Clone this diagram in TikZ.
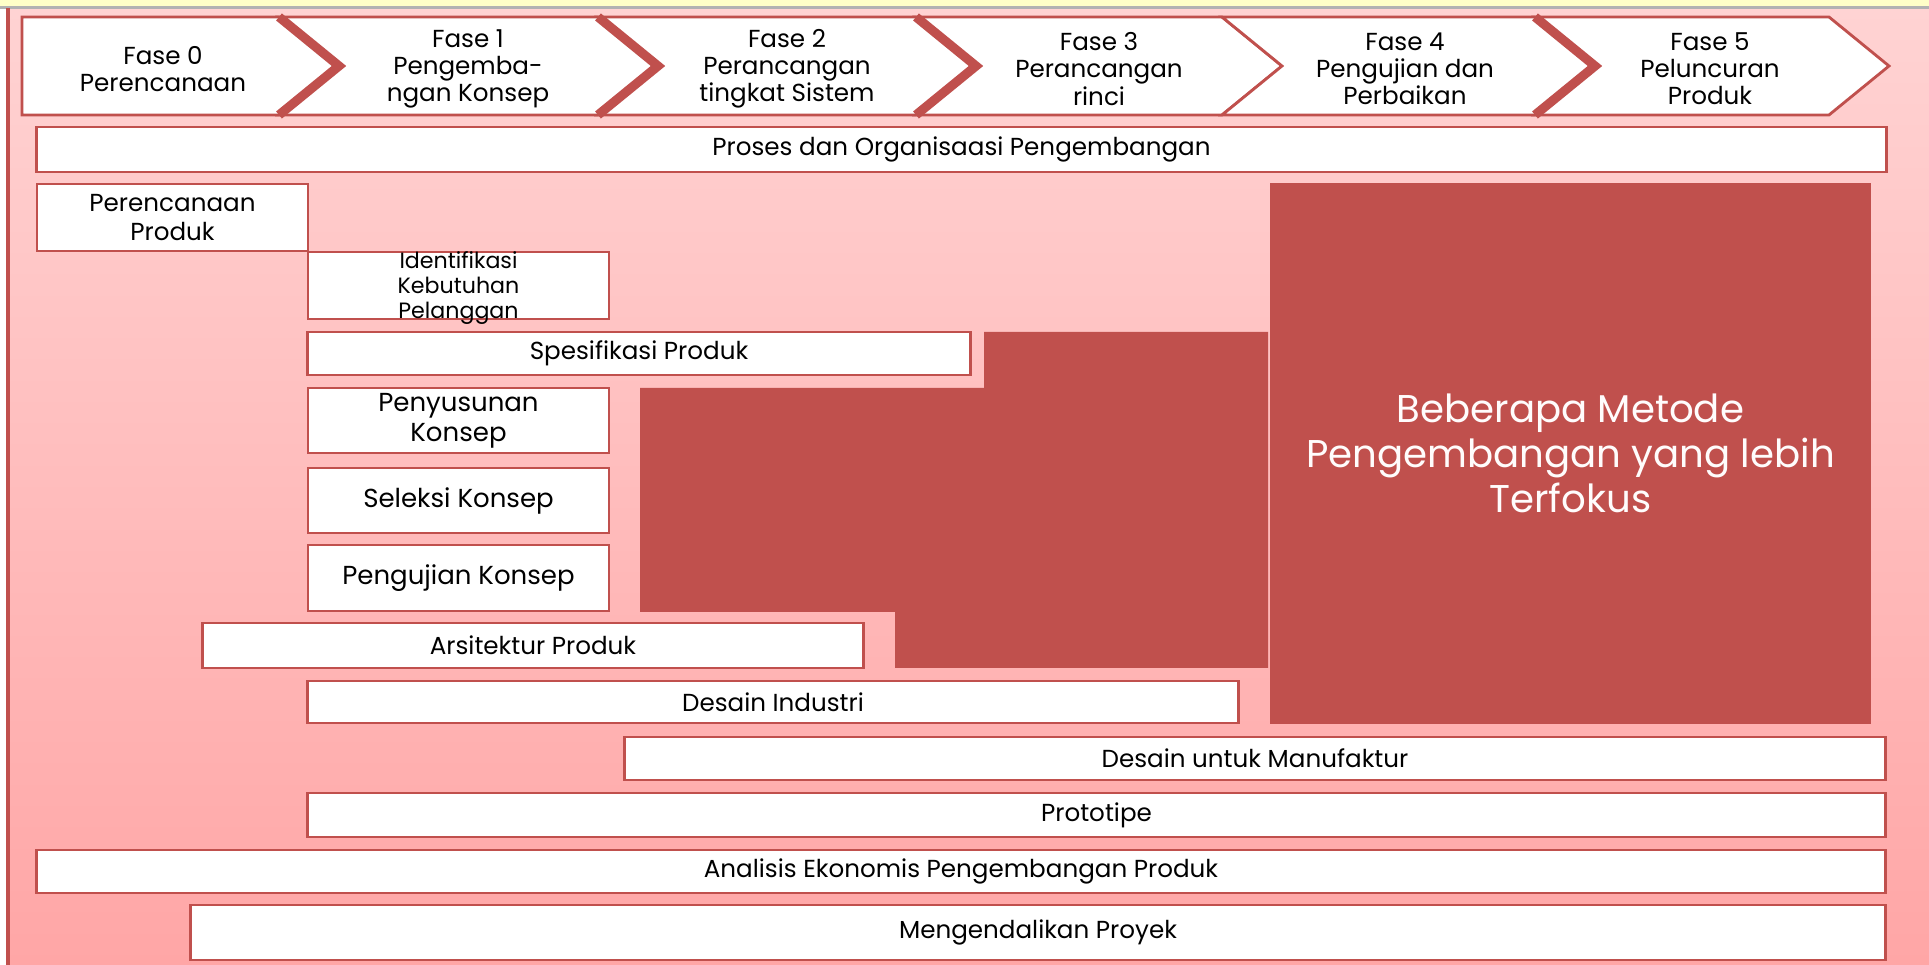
\documentclass[tikz,border=0pt]{standalone}
\usepackage{fontspec}
\setmainfont{Poppins}
\definecolor{dred}{HTML}{C0504D}
\definecolor{pinktop}{HTML}{FFD3D3}
\definecolor{pinkbot}{HTML}{FFA6A6}
\definecolor{ylw}{HTML}{FFFFC8}
\begin{document}
\begin{tikzpicture}[x=0.01cm,y=-0.01cm,
  box/.style={draw=dred, line width=0.8pt, fill=white, inner sep=0pt, outer sep=0pt, align=center, font=\fontsize{7}{8}\selectfont, text=black},
  smallbox/.style={box, minimum width=3.01cm},
  chev/.style={draw=dred, line width=0.8pt, fill=white, line join=miter},
  joint/.style={draw=dred, line width=2.6pt, line join=miter},
  lbl/.style={align=center, font=\fontsize{7}{7.7}\selectfont, inner sep=0pt, text=black},
  dark/.style={fill=dred, draw=none}
]
\useasboundingbox (0,0) rectangle (1929,965);
% background
\fill[ylw] (0,0) rectangle (1929,7);
\shade[top color=pinktop, bottom color=pinkbot] (8,8) rectangle (1929,965);
\draw[gray!60, line width=0.6pt] (0,7.5) -- (1929,7.5);
\draw[dred, line width=1.4pt] (8,8) -- (8,965);
% chevrons
\draw[chev] (22,17) -- (279,17) -- (339,66) -- (279,115) -- (22,115) -- cycle;
\draw[chev] (279,17) -- (598,17) -- (658,66) -- (598,115) -- (279,115) -- (339,66) -- cycle;
\draw[chev] (598,17) -- (916,17) -- (976,66) -- (916,115) -- (598,115) -- (658,66) -- cycle;
\draw[chev] (916,17) -- (1222,17) -- (1282,66) -- (1222,115) -- (916,115) -- (976,66) -- cycle;
\draw[chev] (1222,17) -- (1535,17) -- (1595,66) -- (1535,115) -- (1222,115) -- (1282,66) -- cycle;
\draw[chev] (1535,17) -- (1829,17) -- (1889,66) -- (1829,115) -- (1535,115) -- (1595,66) -- cycle;
\draw[joint] (279,17) -- (339,66) -- (279,115);
\draw[joint] (598,17) -- (658,66) -- (598,115);
\draw[joint] (916,17) -- (976,66) -- (916,115);
\draw[joint] (1535,17) -- (1595,66) -- (1535,115);
\node[lbl] (f0) at (163,69) {Fase 0\\Perencanaan};
\node[lbl] (f1) at (468,69) {Fase 1\\Pengemba-\\ngan Konsep};
\node[lbl] (f2) at (787,69) {Fase 2\\Perancangan\\tingkat Sistem};
\node[lbl] (f3) at (1099,69) {Fase 3\\Perancangan\\rinci};
\node[lbl] (f4) at (1405,69) {Fase 4\\Pengujian dan\\Perbaikan};
\node[lbl] (f5) at (1710,69) {Fase 5\\Peluncuran\\Produk};
% boxes
\node[box, minimum width=18.49cm, minimum height=0.45cm] (proc) at (961.5,149.5) {Proses dan Organisaasi Pengembangan};
\node[box, minimum width=2.71cm, minimum height=0.67cm] (pp) at (172.5,217.5) {Perencanaan\\Produk};
\node[smallbox, minimum height=0.67cm] (ikp) at (458.5,285.5) {};
\node[lbl, font=\fontsize{6.3}{7.1}\selectfont] (ikpt) at (458.5,288) {Identifikasi\\Kebutuhan\\Pelanggan};
\node[box, minimum width=6.62cm, minimum height=0.43cm] (spec) at (639,353.5) {Spesifikasi Produk};
\node[smallbox, minimum height=0.65cm, font=\fontsize{7.4}{8.5}\selectfont] (pk) at (458.5,420.5) {Penyusunan\\Konsep};
\node[smallbox, minimum height=0.65cm, font=\fontsize{7.4}{8.5}\selectfont] (sk) at (458.5,500.5) {Seleksi Konsep};
\node[smallbox, minimum height=0.66cm, font=\fontsize{7.4}{8.5}\selectfont] (uk) at (458.5,578) {Pengujian Konsep};
\node[box, minimum width=6.60cm, minimum height=0.45cm] (ap) at (533,645.5) {Arsitektur Produk};
\node[box, minimum width=9.30cm, minimum height=0.42cm] (di) at (773,702) {Desain Industri};
\node[box, minimum width=12.60cm, minimum height=0.43cm] (dfm) at (1255,758.5) {Desain untuk Manufaktur};
\node[box, minimum width=15.77cm, minimum height=0.44cm] (proto) at (1096.5,815) {Prototipe};
\node[box, minimum width=18.48cm, minimum height=0.43cm] (eco) at (961,871.5) {Analisis Ekonomis Pengembangan Produk};
\node[box, minimum width=16.94cm, minimum height=0.55cm] (pm) at (1038,932.5) {Mengendalikan Proyek};
% dark regions
\fill[dark] (984,332) -- (1268,332) -- (1268,668) -- (895,668) -- (895,612) -- (640,612) -- (640,388) -- (984,388) -- cycle;
\node[dark, minimum width=6.01cm, minimum height=5.41cm, inner sep=0pt, text=white!95!pink, align=center, font=\fontsize{11}{12.8}\selectfont] (focus) at (1570.5,453.5) {Beberapa Metode\\Pengembangan yang lebih\\Terfokus};
\end{tikzpicture}
\end{document}
